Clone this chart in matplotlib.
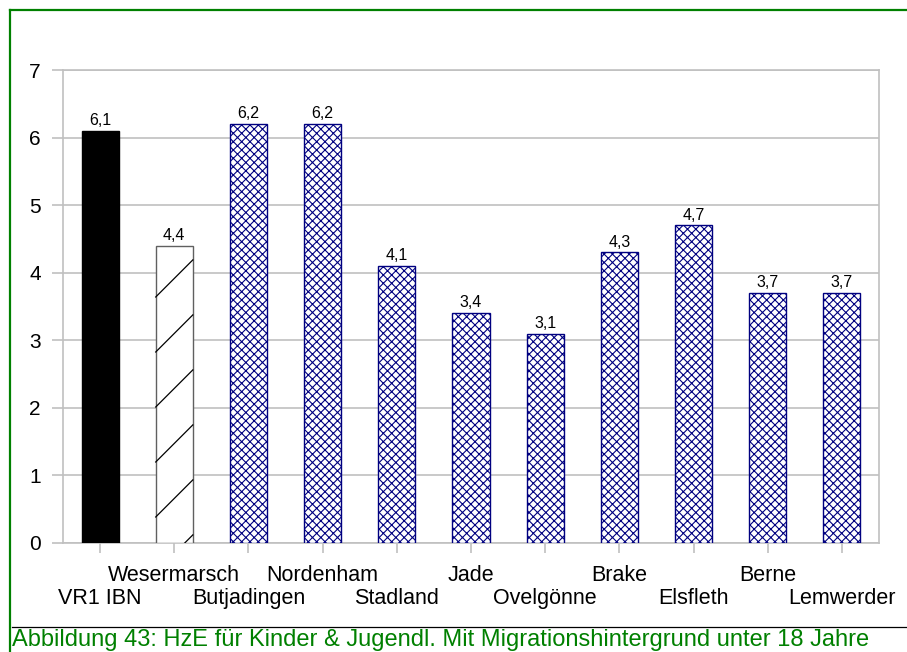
import matplotlib.pyplot as plt
import matplotlib.transforms as mtransforms
from matplotlib.lines import Line2D
import numpy as np

plt.rcParams['font.family'] = ['Liberation Sans', 'DejaVu Sans']
plt.rcParams['hatch.linewidth'] = 0.8

# data
regions = ['VR1 IBN', 'Wesermarsch', 'Butjadingen', 'Nordenham', 'Stadland', 'Jade',
           'Ovelgönne', 'Brake', 'Elsfleth', 'Berne', 'Lemwerder']
values = [6.1, 4.4, 6.2, 6.2, 4.1, 3.4, 3.1, 4.3, 4.7, 3.7, 3.7]
value_labels = ['6,1', '4,4', '6,2', '6,2', '4,1', '3,4', '3,1', '4,3', '4,7', '3,7', '3,7']
y_ticks = [0, 1, 2, 3, 4, 5, 6, 7]
caption = 'Abbildung 43: HzE für Kinder & Jugendl. Mit Migrationshintergrund unter 18 Jahre'

W, H = 907, 652
fig = plt.figure(figsize=(W / 100, H / 100), dpi=100)
ax = fig.add_axes([63 / W, 1 - 543 / H, (879 - 63) / W, (543 - 70) / H])

grid_col = '#c0c0c0'
x = np.arange(len(regions))
bars = ax.bar(x, values, width=0.5, zorder=3)

for i, b in enumerate(bars):
    if i == 0:
        b.set_facecolor('black')
        b.set_edgecolor('black')
    elif i == 1:
        b.set_facecolor('white')
        b.set_edgecolor('#606060')
    else:
        b.set_facecolor('white')
        b.set_edgecolor('#000080')
        b.set_hatch('xxxx')
    b.set_linewidth(1.0)

ax.set_xlim(-0.5, len(regions) - 0.5)
ax.set_ylim(0, 7)
ax.set_yticks(y_ticks)
ax.set_yticklabels([str(t) for t in y_ticks], fontsize=15)
ax.yaxis.grid(True, color=grid_col, lw=1.2, zorder=0)
ax.set_axisbelow(True)
for s in ax.spines.values():
    s.set_color(grid_col)
    s.set_linewidth(1.2)
ax.tick_params(axis='y', length=8, width=1.2, color=grid_col, pad=8)
ax.set_xticks(x)
ax.set_xticklabels([])
ax.tick_params(axis='x', length=7.5, width=1.2, color=grid_col)

# staggered category labels
for i, name in enumerate(regions):
    yy = -0.1163 if i % 2 == 0 else -0.0677
    ax.text(i, yy, name, transform=ax.get_xaxis_transform(), ha='center', va='center',
            fontsize=15.5)

# value labels
for i, (v, lab) in enumerate(zip(values, value_labels)):
    ax.annotate(lab, (i, v), xytext=(0, 2), textcoords='offset points',
                ha='center', va='bottom', fontsize=11.5)

# sparse diagonal hatch on the Wesermarsch bar, clipped by hand in pixel space
wb = bars[1]
ext = wb.get_window_extent()
x0, x1, y0, y1 = ext.x0, ext.x1, ext.y0, ext.y1
step = 55
for k in range(-2, int((y1 - y0) / step) + 2):
    yb = y0 + 26 + k * step - step
    xa = max(x0, x0 + (y0 - yb))
    xb = min(x1, x0 + (y1 - yb))
    if xb <= xa:
        continue
    ln = Line2D([xa, xb], [yb + (xa - x0), yb + (xb - x0)],
                transform=mtransforms.IdentityTransform(), color='black', lw=0.9, zorder=4)
    ax.add_line(ln)

# frame and caption
green = '#008000'
fig.add_artist(Line2D([9.5 / W, 9.5 / W], [0, 1 - 10 / H], transform=fig.transFigure,
                      color=green, lw=1.6))
fig.add_artist(Line2D([9.5 / W, 1], [1 - 10 / H, 1 - 10 / H], transform=fig.transFigure,
                      color=green, lw=1.6))
fig.add_artist(Line2D([12 / W, 1], [1 - 626.5 / H, 1 - 626.5 / H], transform=fig.transFigure,
                      color='black', lw=0.9))
fig.text(12 / W, 1 - 646 / H, caption, color=green, fontsize=17, ha='left', va='baseline')

fig.savefig('out.png', dpi=100)
